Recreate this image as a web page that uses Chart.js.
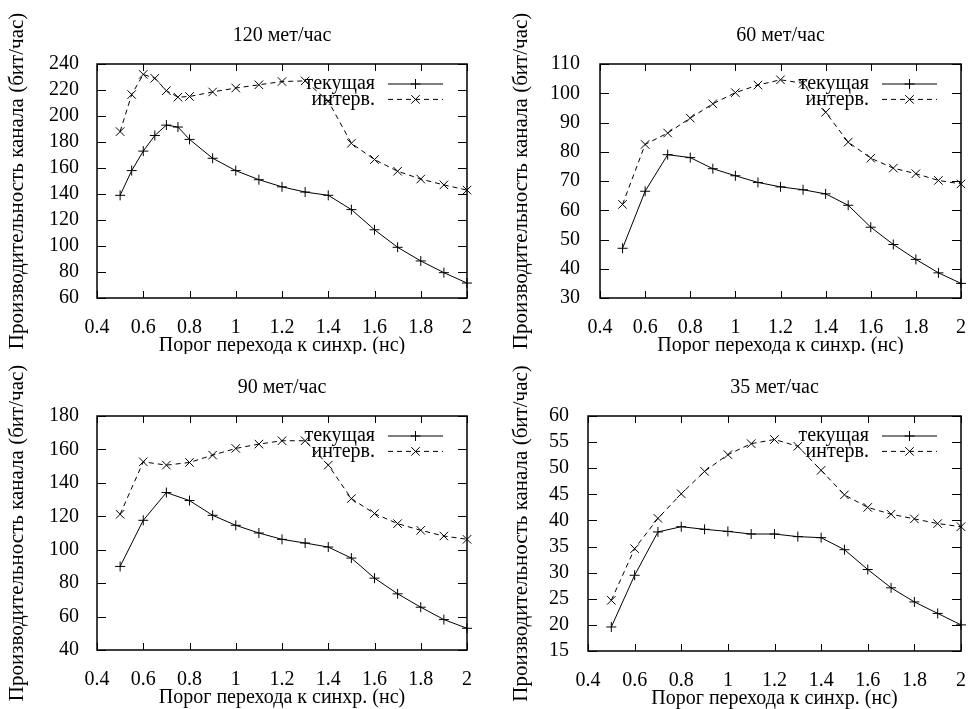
<!DOCTYPE html>
<html lang="ru">
<head>
<meta charset="UTF-8">
<title>Производительность канала</title>
<script src="https://cdn.jsdelivr.net/npm/chart.js@4/dist/chart.umd.min.js"></script>
<style>
  body { margin: 0; background: #fff; }
  .sheet { position: relative; width: 976px; height: 709px; }
  .cell { position: absolute; }
  .cell canvas { display: block; }
</style>
</head>
<body>
<div class="sheet">
  <div class="cell" style="left:0;top:0"><canvas id="c120" width="488" height="354"></canvas></div>
  <div class="cell" style="left:488px;top:0"><canvas id="c60" width="488" height="354"></canvas></div>
  <div class="cell" style="left:0;top:354px"><canvas id="c90" width="488" height="355"></canvas></div>
  <div class="cell" style="left:488px;top:354px"><canvas id="c35" width="488" height="355"></canvas></div>
</div>
<script>
// x values (нс)
const xFine = [0.5, 0.55, 0.6, 0.65, 0.7, 0.75, 0.8, 0.9, 1.0, 1.1, 1.2, 1.3, 1.4, 1.5, 1.6, 1.7, 1.8, 1.9, 2.0];
const xStep = [0.5, 0.6, 0.7, 0.8, 0.9, 1.0, 1.1, 1.2, 1.3, 1.4, 1.5, 1.6, 1.7, 1.8, 1.9, 2.0];
const xTicks = [0.4, 0.6, 0.8, 1, 1.2, 1.4, 1.6, 1.8, 2];

const seriesNames = ['текущая', 'интерв.'];

// 120 мет/час
const cur120 = [139, 158, 173, 185, 193, 191.5, 182, 167.5, 158, 151, 145.5, 141.5, 139, 128, 112.5, 99, 88.5, 79.5, 71.5];
const int120 = [188, 216.5, 232, 229, 219.5, 214.5, 215, 218.5, 221.5, 224, 226.5, 227, 211.5, 179, 166.5, 157.5, 151.5, 147, 143];
const yTicks120 = [60, 80, 100, 120, 140, 160, 180, 200, 220, 240];

// 60 мет/час
const cur60 = [47, 66.5, 79, 78, 74.2, 71.8, 69.5, 68, 67, 65.6, 61.7, 54.2, 48.3, 43.2, 38.6, 35];
const int60 = [62, 82.5, 86.4, 91.5, 96.4, 100.2, 102.8, 104.6, 103.4, 93.5, 83.3, 77.8, 74.4, 72.5, 70.2, 69];
const yTicks60 = [30, 40, 50, 60, 70, 80, 90, 100, 110];

// 90 мет/час
const cur90 = [90, 117.6, 134.2, 129.4, 120.6, 114.6, 110, 106.2, 104, 101.6, 95, 83, 73.6, 65.6, 58.2, 53];
const int90 = [121.2, 152.6, 150.6, 152.2, 156.6, 160.6, 163.2, 165.2, 165.2, 150.6, 130.6, 121.6, 115.6, 111.6, 108.2, 106.2];
const yTicks90 = [40, 60, 80, 100, 120, 140, 160, 180];

// 35 мет/час
const cur35 = [19.6, 29.5, 37.8, 38.8, 38.3, 37.9, 37.4, 37.4, 36.9, 36.7, 34.4, 30.6, 27.1, 24.4, 22.2, 20];
const int35 = [24.7, 34.6, 40.4, 45.1, 49.4, 52.6, 54.7, 55.5, 54.2, 49.6, 44.9, 42.5, 41.2, 40.3, 39.4, 38.8];
const yTicks35 = [15, 20, 25, 30, 35, 40, 45, 50, 55, 60];

const FONT = "'Liberation Serif', 'Times New Roman', serif";
Chart.defaults.font.family = FONT;
Chart.defaults.font.size = 20;
Chart.defaults.color = '#000';

// gnuplot-like border with inward ticks on all sides
const frameTicks = {
  id: 'frameTicks',
  afterDraw(chart) {
    const { ctx, chartArea: a, scales: { x, y } } = chart;
    ctx.save();
    ctx.strokeStyle = '#000';
    ctx.lineWidth = 1;
    ctx.beginPath();
    x.ticks.forEach(t => {
      const px = Math.round(x.getPixelForValue(t.value)) + 0.5;
      ctx.moveTo(px, a.bottom); ctx.lineTo(px, a.bottom - 7);
      ctx.moveTo(px, a.top); ctx.lineTo(px, a.top + 7);
    });
    y.ticks.forEach(t => {
      const py = Math.round(y.getPixelForValue(t.value)) + 0.5;
      ctx.moveTo(a.left, py); ctx.lineTo(a.left + 9, py);
      ctx.moveTo(a.right, py); ctx.lineTo(a.right - 9, py);
    });
    ctx.stroke();
    ctx.lineWidth = 1.5;
    ctx.strokeRect(a.left, a.top, a.right - a.left, a.bottom - a.top);
    ctx.restore();
  }
};

// key in the top right corner: text, then line sample with marker
const keyBox = {
  id: 'keyBox',
  afterDraw(chart) {
    const { ctx, chartArea: a } = chart;
    ctx.save();
    ctx.font = '20px ' + FONT;
    ctx.textAlign = 'right';
    ctx.textBaseline = 'middle';
    ctx.fillStyle = '#000';
    ctx.strokeStyle = '#000';
    chart.data.datasets.forEach((ds, i) => {
      const yy = a.top + 20 + i * 15.4;
      ctx.fillText(ds.label, a.right - 92, yy);
      ctx.lineWidth = 1;
      ctx.setLineDash(ds.borderDash || []);
      ctx.beginPath();
      ctx.moveTo(a.right - 79, yy);
      ctx.lineTo(a.right - 24, yy);
      ctx.stroke();
      ctx.setLineDash([]);
      Chart.helpers.drawPoint(ctx, { pointStyle: ds.pointStyle, radius: ds.pointRadius, borderWidth: 1, rotation: 0 }, a.right - 51.5, yy);
    });
    ctx.restore();
  }
};

function makeChart(id, title, xs, cur, intv, yTicks, box) {
  const pts = arr => xs.map((x, i) => ({ x: x, y: arr[i] }));
  new Chart(document.getElementById(id), {
    type: 'line',
    data: {
      datasets: [
        {
          label: seriesNames[0], data: pts(cur),
          borderColor: '#000', borderWidth: 1, tension: 0, fill: false, clip: false,
          pointStyle: 'cross', pointRadius: 5, pointBorderWidth: 1,
          pointBorderColor: '#000', pointBackgroundColor: '#000'
        },
        {
          label: seriesNames[1], data: pts(intv),
          borderColor: '#000', borderWidth: 1, borderDash: [5, 4], tension: 0, fill: false, clip: false,
          pointStyle: 'crossRot', pointRadius: 6, pointBorderWidth: 1,
          pointBorderColor: '#000', pointBackgroundColor: '#000'
        }
      ]
    },
    options: {
      responsive: false,
      animation: false,
      devicePixelRatio: 1,
      layout: { padding: { left: 0, right: box.right, top: 0, bottom: box.bottom } },
      scales: {
        x: {
          type: 'linear', min: 0.4, max: 2,
          afterBuildTicks: s => { s.ticks = xTicks.map(v => ({ value: v })); },
          afterFit: s => { s.height = 56; },
          ticks: { autoSkip: false, maxRotation: 0, padding: 10, callback: v => String(v) },
          grid: { display: false },
          border: { display: false },
          title: { display: true, text: 'Порог перехода к синхр. (нс)', padding: 0, font: { size: 20, lineHeight: 0.8 } }
        },
        y: {
          type: 'linear', min: yTicks[0], max: yTicks[yTicks.length - 1],
          afterBuildTicks: s => { s.ticks = yTicks.map(v => ({ value: v })); },
          afterFit: s => { s.width = box.yWidth; },
          ticks: { autoSkip: false, padding: box.tickPad },
          grid: { display: false },
          border: { display: false },
          title: { display: true, text: 'Производительность канала (бит/час)', padding: { top: box.yTitle, bottom: 0 }, font: { size: 21, lineHeight: 1 } }
        }
      },
      plugins: {
        legend: { display: false },
        tooltip: { enabled: false },
        title: {
          display: true, text: title, fullSize: false, color: '#000',
          font: { size: 20, weight: 'normal', lineHeight: 1.2 },
          padding: { top: box.titleTop, bottom: 16 }
        }
      }
    },
    plugins: [frameTicks, keyBox]
  });
}

makeChart('c120', '120 мет/час', xFine, cur120, int120, yTicks120,
  { yWidth: 97, right: 21, bottom: 0, tickPad: 10, yTitle: 6.5, titleTop: 24 });
makeChart('c60', '60 мет/час', xStep, cur60, int60, yTicks60,
  { yWidth: 112, right: 8, bottom: 0, tickPad: 12, yTitle: 22.5, titleTop: 24 });
makeChart('c90', '90 мет/час', xStep, cur90, int90, yTicks90,
  { yWidth: 97, right: 21, bottom: 3, tickPad: 10, yTitle: 6.5, titleTop: 22 });
makeChart('c35', '35 мет/час', xStep, cur35, int35, yTicks35,
  { yWidth: 100, right: 8, bottom: 2, tickPad: 11, yTitle: 22.5, titleTop: 22 });
</script>
</body>
</html>
